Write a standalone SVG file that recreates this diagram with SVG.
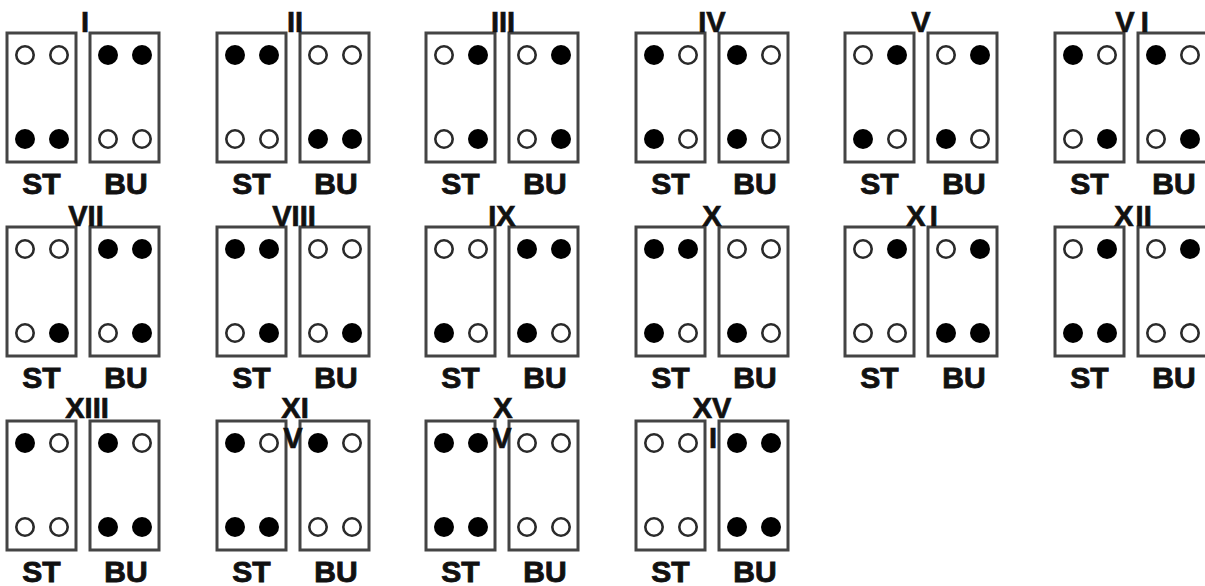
<svg xmlns="http://www.w3.org/2000/svg" xmlns:xlink="http://www.w3.org/1999/xlink" width="1205" height="586" viewBox="0 0 1205 586">
<style>
.box{fill:#fff;stroke:#444;stroke-width:3}
.f{fill:#000}
.o{fill:#fff;stroke:#2a2a2a;stroke-width:2.6}
.lbl{font-family:"Liberation Sans",Arial,sans-serif;font-weight:bold;font-size:30px;text-anchor:middle;fill:#111;stroke:#111;stroke-width:0.9}
.num{font-family:"Liberation Sans",Arial,sans-serif;font-weight:bold;font-size:29px;text-anchor:middle;fill:#111;stroke:#111;stroke-width:0.7}
</style>
<defs>
<circle id="F" r="10" class="f"/>
<circle id="O" r="8.7" class="o"/>
<g id="boxes">
<rect class="box" x="0" y="0" width="69" height="129"/>
<rect class="box" x="83" y="0" width="69" height="129"/>
<text class="lbl" x="34.5" y="161">ST</text>
<text class="lbl" x="119" y="161">BU</text>
</g>
</defs>
<rect width="1205" height="586" fill="#fff"/>
<g id="connectors"/>

<g id="panel-I" transform="translate(7,33)">
<use href="#boxes"/>
<use href="#O" x="18" y="22"/><use href="#O" x="52" y="22"/><use href="#F" x="18" y="106"/><use href="#F" x="52" y="106"/>
<use href="#F" x="101" y="22"/><use href="#F" x="135" y="22"/><use href="#O" x="101" y="106"/><use href="#O" x="135" y="106"/>
<text class="num" x="78" y="-1">I</text>
</g>

<g id="panel-II" transform="translate(217,33)">
<use href="#boxes"/>
<use href="#F" x="18" y="22"/><use href="#F" x="52" y="22"/><use href="#O" x="18" y="106"/><use href="#O" x="52" y="106"/>
<use href="#O" x="101" y="22"/><use href="#O" x="135" y="22"/><use href="#F" x="101" y="106"/><use href="#F" x="135" y="106"/>
<text class="num" x="78" y="-1">II</text>
</g>

<g id="panel-III" transform="translate(426,33)">
<use href="#boxes"/>
<use href="#O" x="18" y="22"/><use href="#F" x="52" y="22"/><use href="#O" x="18" y="106"/><use href="#F" x="52" y="106"/>
<use href="#O" x="101" y="22"/><use href="#F" x="135" y="22"/><use href="#O" x="101" y="106"/><use href="#F" x="135" y="106"/>
<text class="num" x="77" y="-1">III</text>
</g>

<g id="panel-IV" transform="translate(636,33)">
<use href="#boxes"/>
<use href="#F" x="18" y="22"/><use href="#O" x="52" y="22"/><use href="#F" x="18" y="106"/><use href="#O" x="52" y="106"/>
<use href="#F" x="101" y="22"/><use href="#O" x="135" y="22"/><use href="#F" x="101" y="106"/><use href="#O" x="135" y="106"/>
<text class="num" x="76" y="-1">IV</text>
</g>

<g id="panel-V" transform="translate(845,33)">
<use href="#boxes"/>
<use href="#O" x="18" y="22"/><use href="#F" x="52" y="22"/><use href="#F" x="18" y="106"/><use href="#O" x="52" y="106"/>
<use href="#O" x="101" y="22"/><use href="#F" x="135" y="22"/><use href="#F" x="101" y="106"/><use href="#O" x="135" y="106"/>
<text class="num" x="76" y="-1">V</text>
</g>

<g id="panel-VI" transform="translate(1055,33)">
<use href="#boxes"/>
<use href="#F" x="18" y="22"/><use href="#O" x="52" y="22"/><use href="#O" x="18" y="106"/><use href="#F" x="52" y="106"/>
<use href="#F" x="101" y="22"/><use href="#O" x="135" y="22"/><use href="#O" x="101" y="106"/><use href="#F" x="135" y="106"/>
<text class="num" x="77" y="-1">V<tspan dx="6">I</tspan></text>
</g>

<g id="panel-VII" transform="translate(7,227)">
<use href="#boxes"/>
<use href="#O" x="18" y="22"/><use href="#O" x="52" y="22"/><use href="#O" x="18" y="106"/><use href="#F" x="52" y="106"/>
<use href="#F" x="101" y="22"/><use href="#F" x="135" y="22"/><use href="#O" x="101" y="106"/><use href="#F" x="135" y="106"/>
<text class="num" x="79" y="-1">VII</text>
</g>

<g id="panel-VIII" transform="translate(217,227)">
<use href="#boxes"/>
<use href="#F" x="18" y="22"/><use href="#F" x="52" y="22"/><use href="#O" x="18" y="106"/><use href="#F" x="52" y="106"/>
<use href="#O" x="101" y="22"/><use href="#O" x="135" y="22"/><use href="#O" x="101" y="106"/><use href="#F" x="135" y="106"/>
<text class="num" x="77" y="-1">VIII</text>
</g>

<g id="panel-IX" transform="translate(426,227)">
<use href="#boxes"/>
<use href="#O" x="18" y="22"/><use href="#O" x="52" y="22"/><use href="#F" x="18" y="106"/><use href="#O" x="52" y="106"/>
<use href="#F" x="101" y="22"/><use href="#F" x="135" y="22"/><use href="#F" x="101" y="106"/><use href="#O" x="135" y="106"/>
<text class="num" x="76" y="-1">IX</text>
</g>

<g id="panel-X" transform="translate(636,227)">
<use href="#boxes"/>
<use href="#F" x="18" y="22"/><use href="#F" x="52" y="22"/><use href="#F" x="18" y="106"/><use href="#O" x="52" y="106"/>
<use href="#O" x="101" y="22"/><use href="#O" x="135" y="22"/><use href="#F" x="101" y="106"/><use href="#O" x="135" y="106"/>
<text class="num" x="76" y="-1">X</text>
</g>

<g id="panel-XI" transform="translate(845,227)">
<use href="#boxes"/>
<use href="#O" x="18" y="22"/><use href="#F" x="52" y="22"/><use href="#O" x="18" y="106"/><use href="#O" x="52" y="106"/>
<use href="#O" x="101" y="22"/><use href="#F" x="135" y="22"/><use href="#F" x="101" y="106"/><use href="#F" x="135" y="106"/>
<text class="num" x="77" y="-1">X<tspan dx="4">I</tspan></text>
</g>

<g id="panel-XII" transform="translate(1055,227)">
<use href="#boxes"/>
<use href="#O" x="18" y="22"/><use href="#F" x="52" y="22"/><use href="#F" x="18" y="106"/><use href="#F" x="52" y="106"/>
<use href="#O" x="101" y="22"/><use href="#F" x="135" y="22"/><use href="#O" x="101" y="106"/><use href="#O" x="135" y="106"/>
<text class="num" x="78" y="-1">X<tspan dx="2">II</tspan></text>
</g>

<g id="panel-XIII" transform="translate(7,421)">
<use href="#boxes"/>
<use href="#F" x="18" y="22"/><use href="#O" x="52" y="22"/><use href="#O" x="18" y="106"/><use href="#O" x="52" y="106"/>
<use href="#F" x="101" y="22"/><use href="#O" x="135" y="22"/><use href="#F" x="101" y="106"/><use href="#F" x="135" y="106"/>
<text class="num" x="80" y="-3">XIII</text>
</g>

<g id="panel-XIV" transform="translate(217,421)">
<use href="#boxes"/>
<use href="#F" x="18" y="22"/><use href="#O" x="52" y="22"/><use href="#F" x="18" y="106"/><use href="#F" x="52" y="106"/>
<use href="#F" x="101" y="22"/><use href="#O" x="135" y="22"/><use href="#O" x="101" y="106"/><use href="#O" x="135" y="106"/>
<text class="num" y="-3"><tspan x="78">XI</tspan><tspan x="76" y="27">V</tspan></text>
</g>

<g id="panel-XV" transform="translate(426,421)">
<use href="#boxes"/>
<use href="#F" x="18" y="22"/><use href="#F" x="52" y="22"/><use href="#F" x="18" y="106"/><use href="#F" x="52" y="106"/>
<use href="#O" x="101" y="22"/><use href="#O" x="135" y="22"/><use href="#O" x="101" y="106"/><use href="#O" x="135" y="106"/>
<text class="num" y="-3"><tspan x="77">X</tspan><tspan x="76" y="27">V</tspan></text>
</g>

<g id="panel-XVI" transform="translate(636,421)">
<use href="#boxes"/>
<use href="#O" x="18" y="22"/><use href="#O" x="52" y="22"/><use href="#O" x="18" y="106"/><use href="#O" x="52" y="106"/>
<use href="#F" x="101" y="22"/><use href="#F" x="135" y="22"/><use href="#F" x="101" y="106"/><use href="#F" x="135" y="106"/>
<text class="num" y="-3"><tspan x="76">XV</tspan><tspan x="77" y="27">I</tspan></text>
</g>
</svg>
